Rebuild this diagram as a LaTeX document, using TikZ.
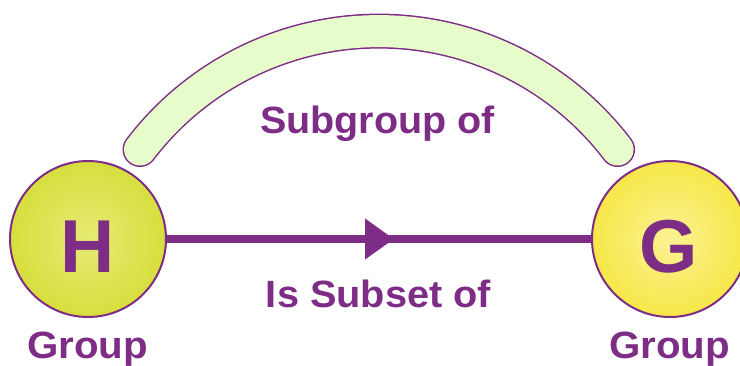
\documentclass[tikz,border=0pt]{standalone}
\usepackage{fontspec}
\setmainfont{Liberation Sans}
\usetikzlibrary{arrows.meta}
\definecolor{pur}{HTML}{7D2D85}
\definecolor{bandc}{HTML}{E7FCCB}
\definecolor{hin}{HTML}{E6EB74}
\definecolor{hout}{HTML}{D1DA2A}
\definecolor{gin}{HTML}{FBF292}
\definecolor{gout}{HTML}{F5E32E}
\pgfdeclareradialshading{hshade}{\pgfpoint{0bp}{0bp}}{color(0bp)=(hin); color(34bp)=(hout); color(50bp)=(hout)}
\pgfdeclareradialshading{gshade}{\pgfpoint{0bp}{0bp}}{color(0bp)=(gin); color(34bp)=(gout); color(50bp)=(gout)}
\begin{document}
\begin{tikzpicture}[x=1pt,y=-1pt,
  lbl/.style={text=pur, font=\bfseries\fontsize{38}{40}\selectfont, anchor=base, inner sep=0},
  big/.style={text=pur, font=\bfseries\fontsize{75}{80}\selectfont, anchor=base, inner sep=0},
  ball/.style={circle, draw=pur, line width=2pt, minimum size=156pt, inner sep=0},
  conn/.style={draw=pur, line width=8pt},
  bandout/.style={draw=pur, line width=35pt, line cap=round},
  bandin/.style={draw=bandc, line width=32pt, line cap=round}]
\clip (0,0) rectangle (740,365);
% arch band
\coordinate (bl) at (140,149.5);
\draw[bandout] (bl) arc[start angle=-142.75, end angle=-37.25, radius=300];
\draw[bandin] (bl) arc[start angle=-142.75, end angle=-37.25, radius=300];
% group balls
\node[ball, shading=hshade] (H) at (88,239) {};
\node[ball, shading=gshade] (G) at (670,239) {};
% connector
\coordinate (mid) at (394,239);
\draw[conn] ([xshift=-20pt]mid) -- (G.west);
\draw[conn, -{Triangle[length=29pt,width=39pt]}] (H.east) -- (mid);
% letters
\node[big] (Ht) at (88,272) {H};
\node[big] (Gt) at (669,272) {G};
% labels
\node[lbl] (sub) at (377.5,133) {\scalebox{1.04}[1]{Subgroup of}};
\node[lbl] (iss) at (378.5,307) {\scalebox{1.045}[1]{Is Subset of}};
\node[lbl] (hg) at (87.5,358) {\scalebox{1.06}[1]{Group}};
\node[lbl] (gg) at (669.5,358) {\scalebox{1.06}[1]{Group}};
\end{tikzpicture}
\end{document}
